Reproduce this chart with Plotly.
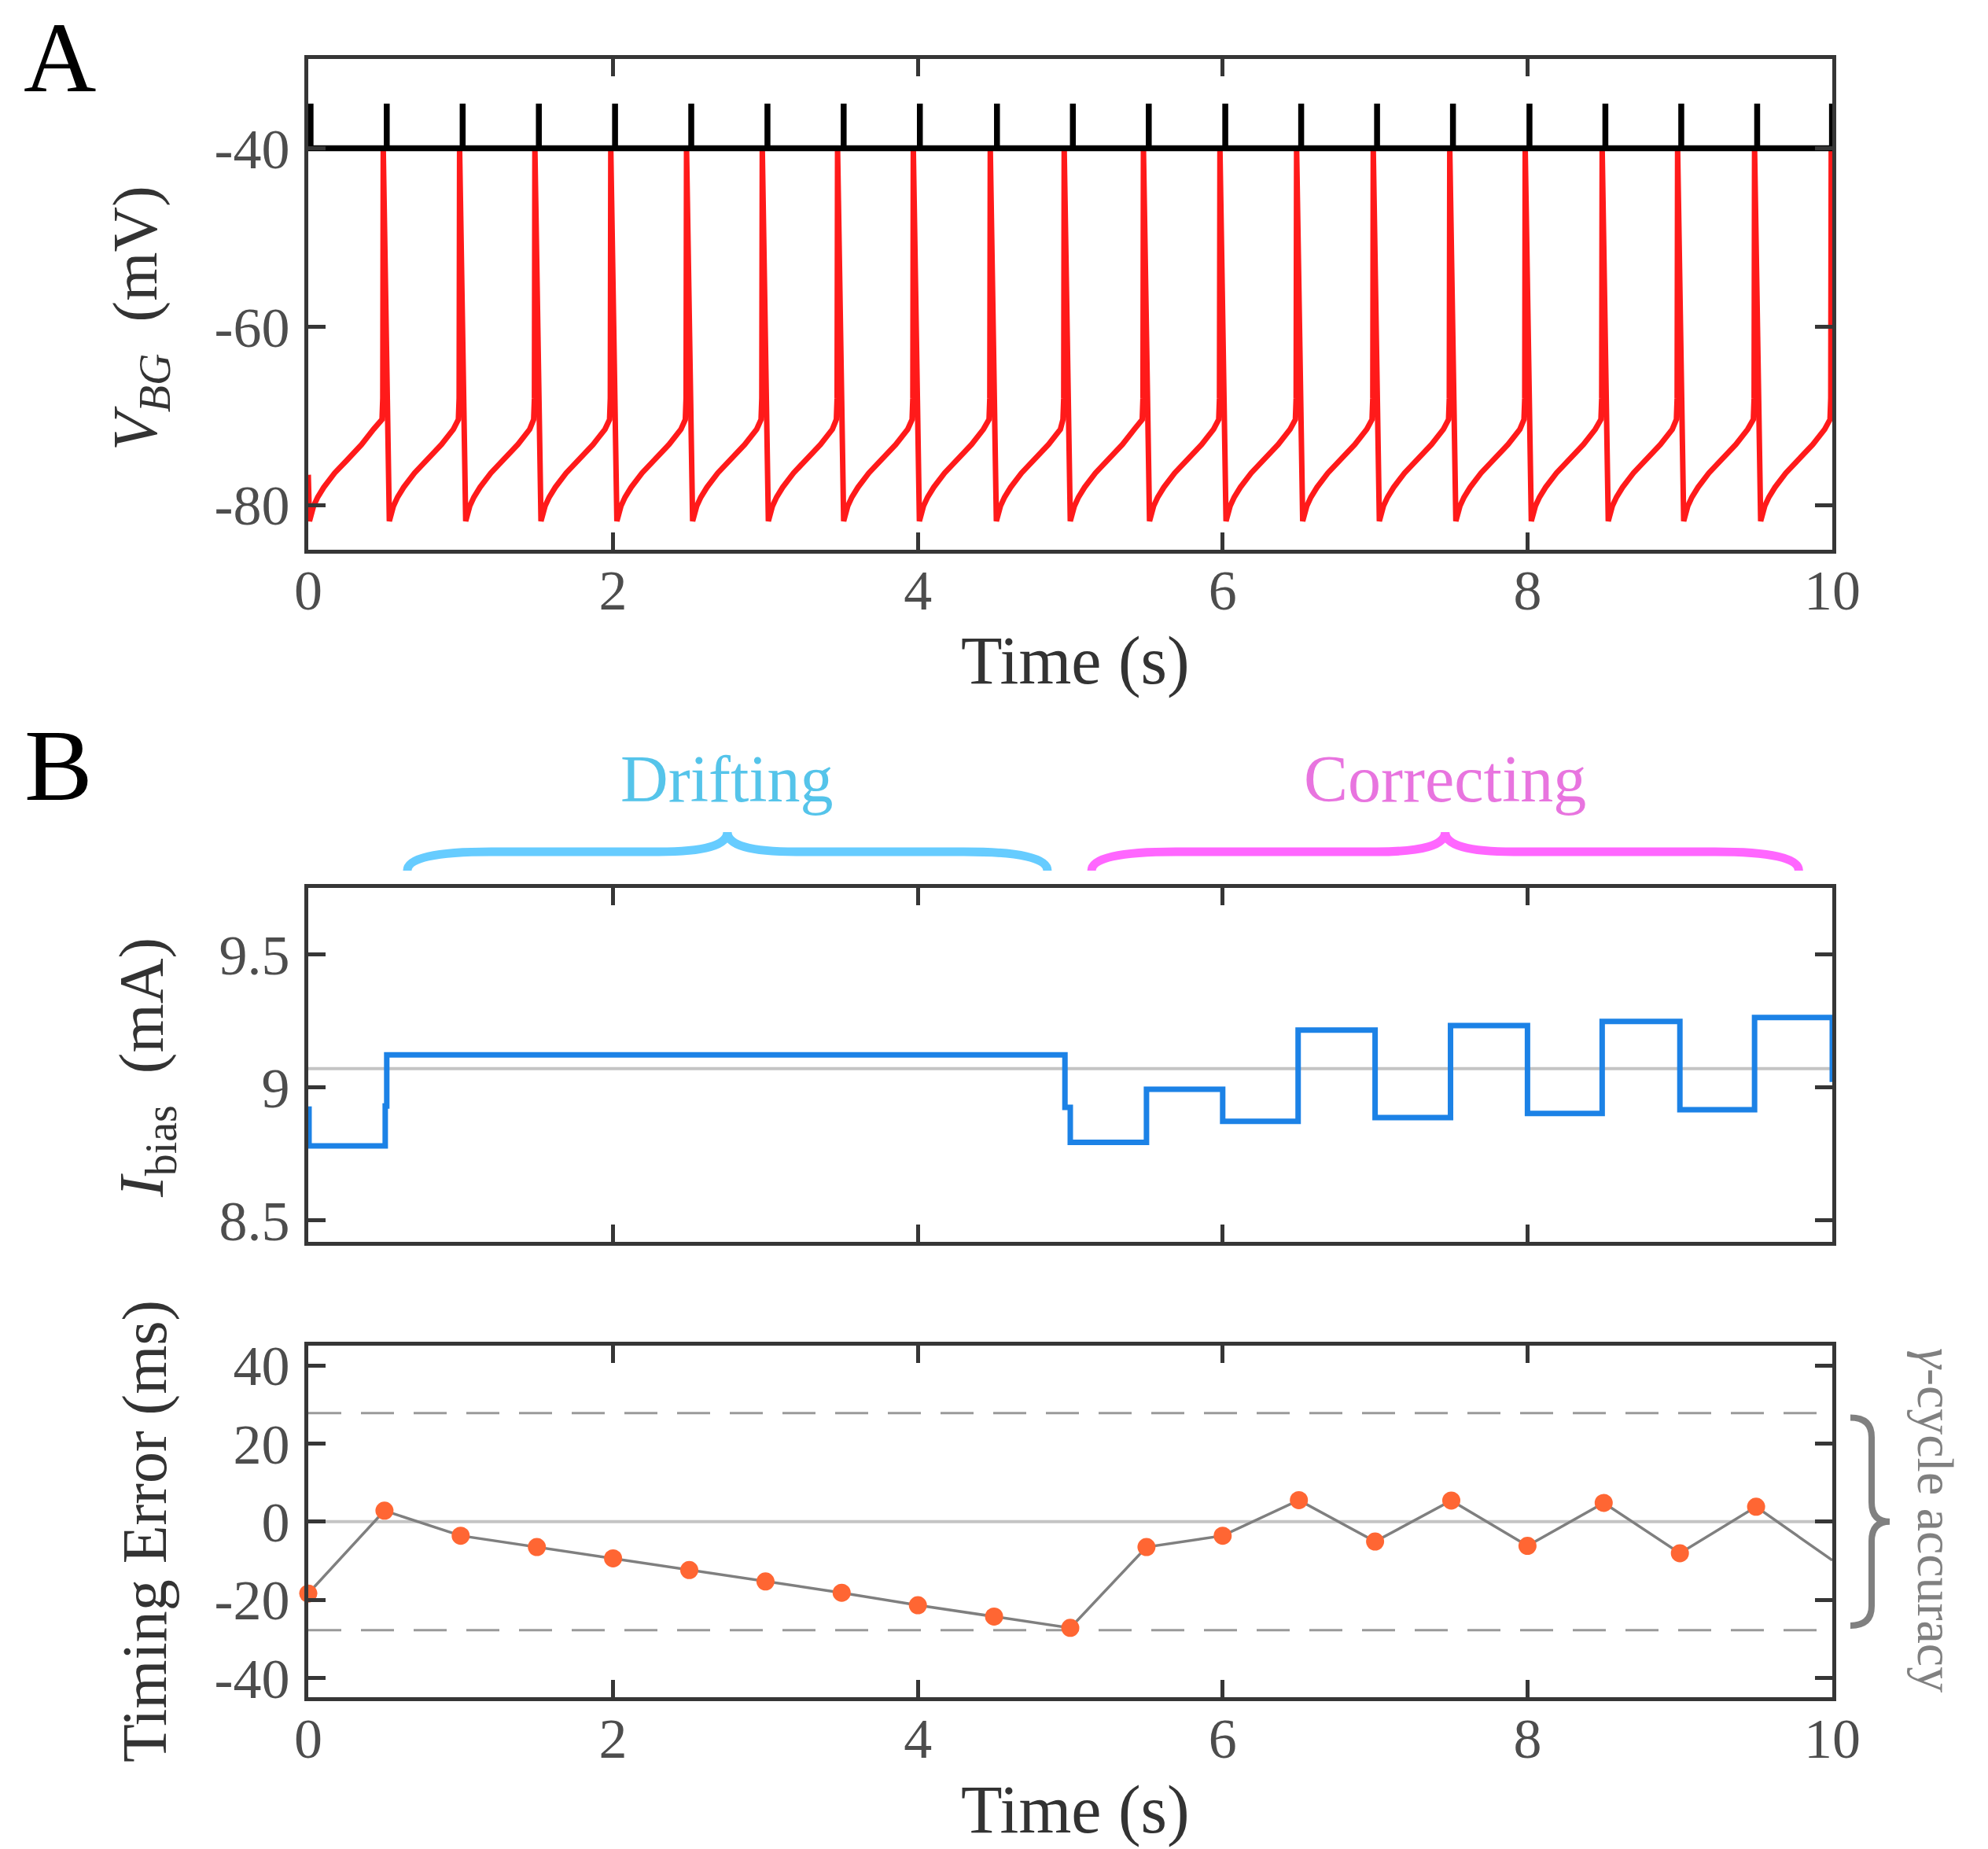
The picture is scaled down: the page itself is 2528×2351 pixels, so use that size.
import plotly.graph_objects as go

W, H = 2528, 2351

# ---------------- Data ----------------
# Panel A - red membrane voltage V_BG
red_spike_t = [0.492, 0.993, 1.487, 1.985, 2.482, 2.979, 3.473, 3.970, 4.475, 4.960,
               5.480, 5.982, 6.485, 6.988, 7.490, 7.985, 8.490, 8.985, 9.490, 9.993]
red_start = (0.0, -76.6)          # first sample
red_end = (10.0, -44.9)           # last sample (mid down-stroke)
ramp_rel_t = [0.0, 0.027, 0.054, 0.094, 0.165, 0.244, 0.342, 0.420]   # from trough
ramp_v = [-81.8, -80.1, -79.1, -78.0, -76.4, -75.0, -73.2, -71.5]
pre_rel_t = [-0.008, -0.003, 0.0]   # relative to spike
pre_v = [-70.4, -68.0, -40.0]
trough_delay = 0.040                # spike peak -> trough
first_trough_t = 0.008

# Panel A - black reference pulses
black_pulse_t = [0.015, 0.515, 1.013, 1.513, 2.013, 2.513, 3.013, 3.513, 4.013, 4.519,
                 5.017, 5.515, 6.017, 6.515, 7.013, 7.511, 8.013, 8.511, 9.009, 9.507, 9.998]
black_base = -40.0
black_peak = -35.0

# Panel B (top) - bias current (step changes)
ibias_t = [0.0, 0.005, 0.505, 0.515, 4.965, 5.000, 5.500, 6.000, 6.495, 7.000,
           7.495, 8.000, 8.490, 9.000, 9.490, 10.0]
ibias_v = [8.918, 8.780, 8.930, 9.122, 8.925, 8.793, 8.993, 8.872, 9.215, 8.886,
           9.232, 8.902, 9.248, 8.916, 9.263, 9.020]
ibias_target = 9.07

# Panel B (bottom) - timing error
err_t = [0.0, 0.5, 1.0, 1.5, 2.0, 2.5, 3.0, 3.5, 4.0, 4.5,
         5.0, 5.5, 6.0, 6.5, 7.0, 7.5, 8.0, 8.5, 9.0, 9.5]
err_v = [-18.4, 2.8, -3.6, -6.5, -9.4, -12.4, -15.3, -18.2, -21.4, -24.3,
         -27.2, -6.5, -3.6, 5.5, -5.1, 5.4, -6.2, 4.8, -8.1, 3.8]
err_end = (10.0, -9.9)
gamma_bound = 27.8

# Braces (data x)
drift_span = [0.65, 4.85]
correct_span = [5.14, 9.78]

xticks = [0, 2, 4, 6, 8, 10]
yticksA = [-80, -60, -40]
yticksB1 = [8.5, 9.0, 9.5]
yticksB1_text = ["8.5", "9", "9.5"]
yticksB2 = [-40, -20, 0, 20, 40]

# ---------------- Build traces ----------------
red_x, red_y = [red_start[0]], [red_start[1]]
prev = None
for ts in red_spike_t:
    t0 = first_trough_t if prev is None else prev + trough_delay
    for r, v in zip(ramp_rel_t, ramp_v):
        red_x.append(t0 + r); red_y.append(v)
    for r, v in zip(pre_rel_t, pre_v):
        red_x.append(ts + r); red_y.append(v)
    prev = ts
red_x.append(red_end[0]); red_y.append(red_end[1])

blk_x, blk_y = [0.0], [black_base]
for p in black_pulse_t:
    blk_x += [p, p, p]
    blk_y += [black_base, black_peak, black_base]
blk_x.append(10.0); blk_y.append(black_base)

def px_x(px):
    return px / W

def px_y(py):
    return 1 - py / H

FONT = "Liberation Serif"
AX = "#363636"
TICKC = "#4d4d4d"

fig = go.Figure()
fig.add_trace(go.Scatter(x=red_x, y=red_y, mode="lines", line=dict(color="#ff1a1a", width=7),
                         xaxis="x", yaxis="y", showlegend=False))
fig.add_trace(go.Scatter(x=blk_x, y=blk_y, mode="lines", line=dict(color="#000000", width=7.5),
                         xaxis="x", yaxis="y", showlegend=False))

fig.add_trace(go.Scatter(x=[0, 10], y=[ibias_target] * 2, mode="lines",
                         line=dict(color="#c4c4c4", width=4), xaxis="x2", yaxis="y2", showlegend=False))
fig.add_trace(go.Scatter(x=ibias_t, y=ibias_v, mode="lines", line=dict(color="#1c82e6", width=7, shape="hv"),
                         xaxis="x2", yaxis="y2", showlegend=False))

for b in (gamma_bound, -gamma_bound):
    fig.add_trace(go.Scatter(x=[0, 10], y=[b, b], mode="lines",
                             line=dict(color="#9a9a9a", width=3, dash="42px,25px"),
                             xaxis="x3", yaxis="y3", showlegend=False))
fig.add_trace(go.Scatter(x=[0, 10], y=[0, 0], mode="lines", line=dict(color="#c4c4c4", width=4),
                         xaxis="x3", yaxis="y3", showlegend=False))
fig.add_trace(go.Scatter(x=err_t + [err_end[0]], y=err_v + [err_end[1]], mode="lines",
                         line=dict(color="#7f7f7f", width=3.5), xaxis="x3", yaxis="y3", showlegend=False))
fig.add_trace(go.Scatter(x=err_t, y=err_v, mode="markers", cliponaxis=False,
                         marker=dict(color="#ff6633", size=23, line=dict(width=0)),
                         xaxis="x3", yaxis="y3", showlegend=False))

xdom = [px_x(392), px_x(2330)]
domA = [px_y(699), px_y(75)]
domB1 = [px_y(1578.6), px_y(1129)]
domB2 = [px_y(2158.3), px_y(1711.2)]

def axis(**kw):
    d = dict(showline=True, linecolor=AX, linewidth=5, mirror="allticks", ticks="inside",
             ticklen=22, tickwidth=5, tickcolor=AX, showgrid=False, zeroline=False,
             tickfont=dict(family=FONT, size=72, color=TICKC), automargin=False)
    d.update(kw)
    return d

fig.update_layout(
    width=W, height=H, margin=dict(l=0, r=0, t=0, b=0),
    paper_bgcolor="white", plot_bgcolor="white",
    xaxis=axis(domain=xdom, range=[0, 10], tickvals=xticks, ticktext=[str(v) for v in xticks],
               anchor="y", ticklabelstandoff=-15),
    yaxis=axis(domain=domA, range=[-85, -30], tickvals=yticksA, ticktext=[str(v) for v in yticksA],
               anchor="x", ticklabelstandoff=4),
    xaxis2=axis(domain=xdom, range=[0, 10], tickvals=xticks, showticklabels=False, anchor="y2"),
    yaxis2=axis(domain=domB1, range=[8.42, 9.75], tickvals=yticksB1, ticktext=yticksB1_text,
                anchor="x2", ticklabelstandoff=4),
    xaxis3=axis(domain=xdom, range=[0, 10], tickvals=xticks, ticktext=[str(v) for v in xticks],
                anchor="y3", ticklabelstandoff=-15),
    yaxis3=axis(domain=domB2, range=[-45, 45], tickvals=yticksB2, ticktext=[str(v) for v in yticksB2],
                anchor="x3", ticklabelstandoff=4),
)

# ---------------- Braces ----------------
def hbrace(x0, x1, yE, yM, yT, a=0.55, b=0.45):
    xt = (x0 + x1) / 2
    return (f"M {x0},{yE} Q {x0},{yM} {x0 + a},{yM} L {xt - b},{yM} Q {xt},{yM} {xt},{yT} "
            f"Q {xt},{yM} {xt + b},{yM} L {x1 - a},{yM} Q {x1},{yM} {x1},{yE}")

yE, yM, yT = px_y(1107), px_y(1083), px_y(1058)
fig.add_shape(type="path", path=hbrace(drift_span[0], drift_span[1], yE, yM, yT),
              xref="x2", yref="paper", line=dict(color="#66ccff", width=11))
fig.add_shape(type="path", path=hbrace(correct_span[0], correct_span[1], yE, yM, yT),
              xref="x2", yref="paper", line=dict(color="#ff66ff", width=11))

xe, xv, xtip = px_x(2353), px_x(2380), px_x(2403)
yt, c = 26.6, 5.0
vpath = (f"M {xe},{yt} Q {xv},{yt} {xv},{yt - c} L {xv},{c} Q {xv},0 {xtip},0 "
         f"Q {xv},0 {xv},{-c} L {xv},{-yt + c} Q {xv},{-yt} {xe},{-yt}")
fig.add_shape(type="path", path=vpath, xref="paper", yref="y3",
              line=dict(color="#808080", width=8))

# ---------------- Text ----------------
def ann(text, x, y, size, color="#333333", xref="paper", yref="paper", angle=0,
        xanchor="center", yanchor="middle"):
    fig.add_annotation(text=text, x=x, y=y, xref=xref, yref=yref, showarrow=False,
                       textangle=angle, xanchor=xanchor, yanchor=yanchor,
                       font=dict(family=FONT, size=size, color=color))

ann("A", px_x(28), 1.0, 128, color="#000000", xanchor="left", yanchor="top")
ann("B", px_x(29), px_y(973), 130, color="#000000", xanchor="left")
ann("Time (s)", px_x(1367), px_y(840), 86)
ann("Time (s)", px_x(1367), px_y(2301), 86)
ann("<i>V</i><sub><i>BG</i></sub>\u00a0\u00a0(mV)", px_x(178), px_y(405), 80, angle=-90)
ann("<i>I</i><sub>bias</sub>\u00a0\u00a0(mA)", px_x(186), px_y(1358), 80, angle=-90)
ann("Timing Error (ms)", px_x(184), px_y(1947), 80, angle=-90)
ann("Drifting", (drift_span[0] + drift_span[1]) / 2, px_y(990), 84, color="#55c4ea", xref="x2")
ann("Correcting", (correct_span[0] + correct_span[1]) / 2, px_y(990), 84, color="#e874df", xref="x2")
ann("<i>γ</i>-cycle accuracy", px_x(2462), px_y(1933), 66, color="#808080", angle=90)

fig.write_html("out.html")
